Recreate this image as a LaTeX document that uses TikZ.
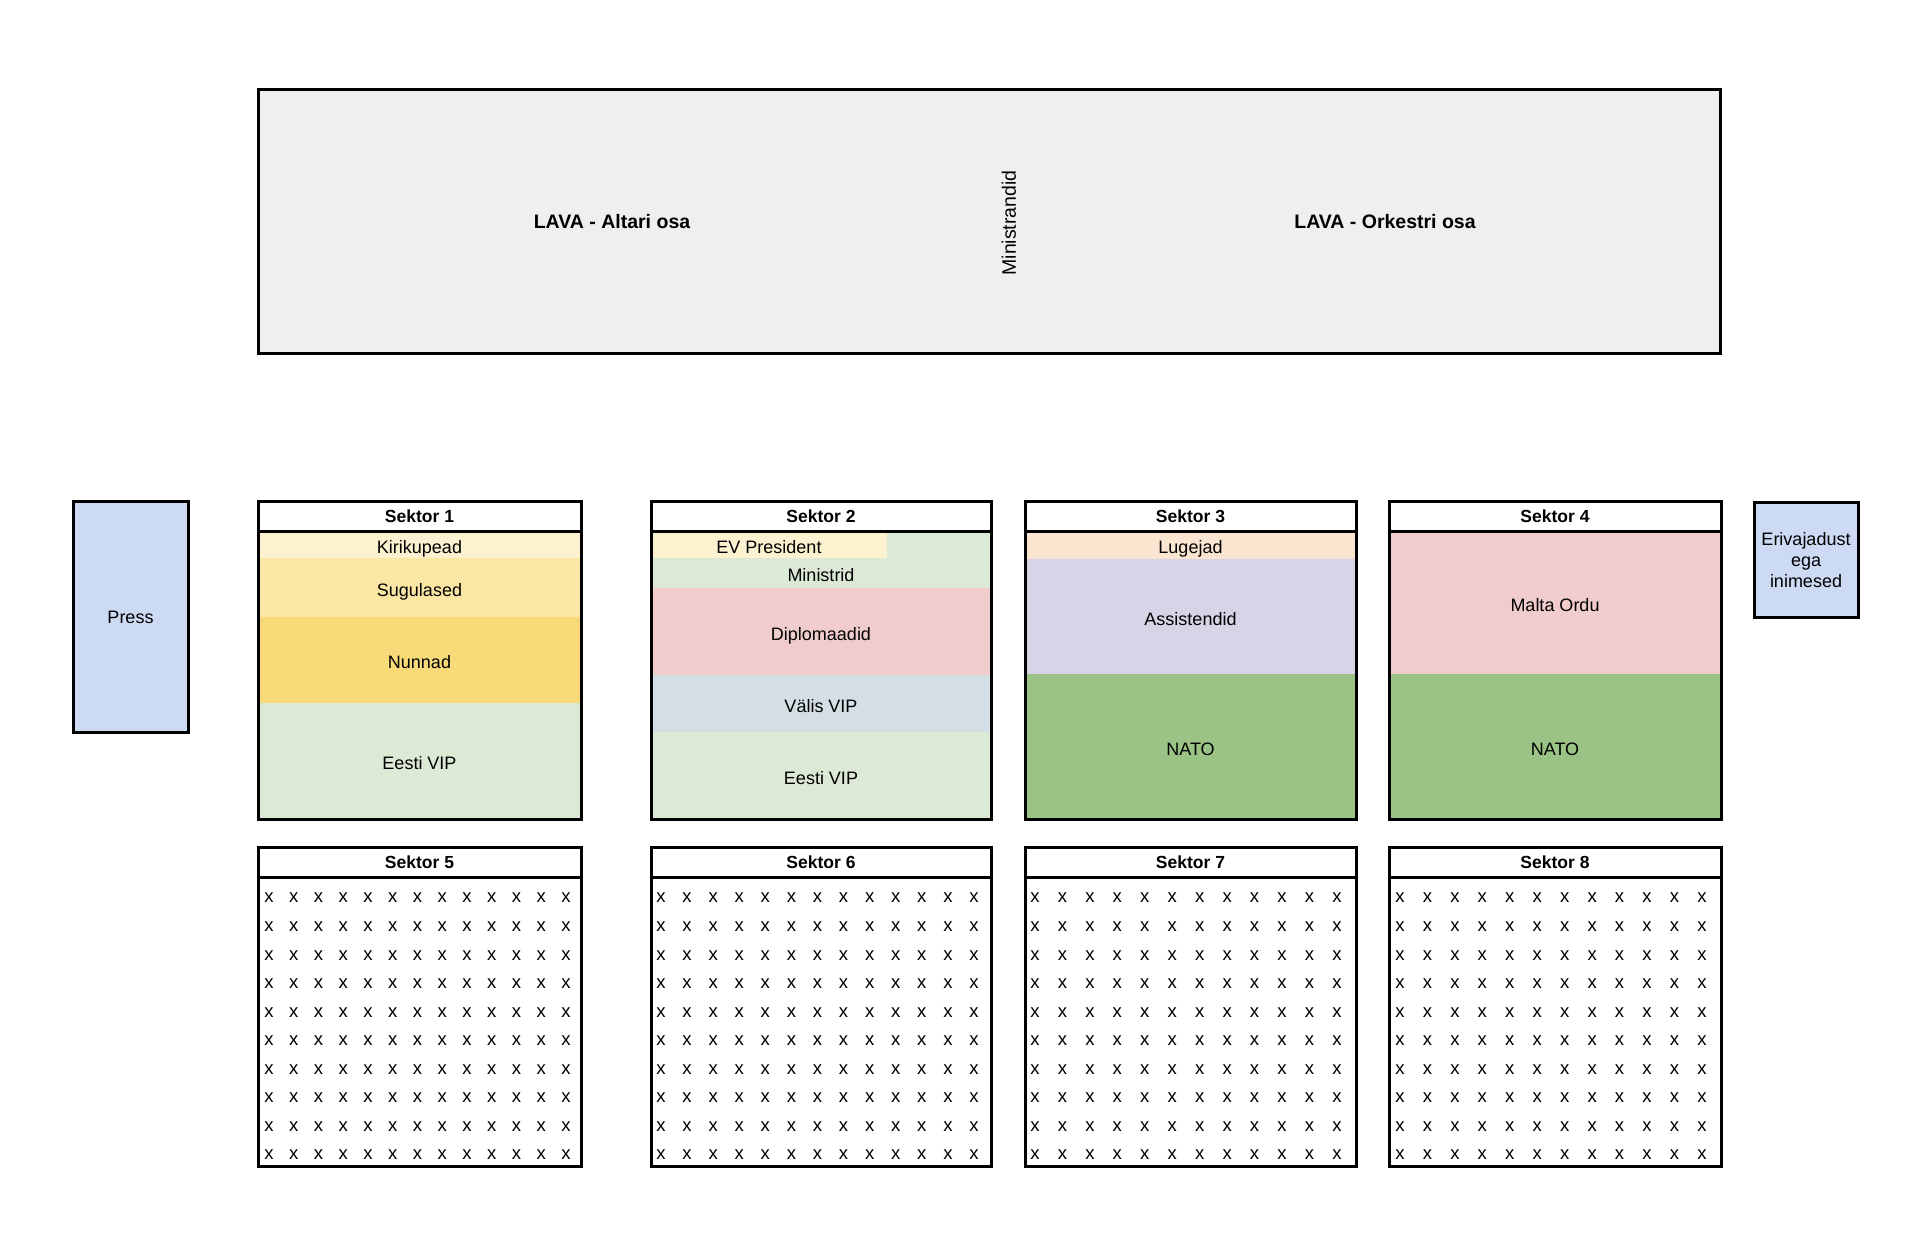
\documentclass[tikz,border=0pt]{standalone}
\usepackage{fontspec}
\setmainfont{Liberation Sans}
\usetikzlibrary{fit}
\definecolor{stagegray}{HTML}{EFEFEF}
\definecolor{pressblue}{HTML}{CCDAF4}
\definecolor{kiri}{HTML}{FDF2D0}
\definecolor{sugu}{HTML}{FBE6A3}
\definecolor{nunn}{HTML}{F9DA78}
\definecolor{lgreen}{HTML}{DCE9D5}
\definecolor{lred}{HTML}{F0CCCC}
\definecolor{lcyan}{HTML}{D3DFE4}
\definecolor{lorange}{HTML}{FAE5D0}
\definecolor{lpurple}{HTML}{D8D3E6}
\definecolor{nato}{HTML}{9BC385}
\begin{document}
\begin{tikzpicture}[x=1pt,y=-1pt,
  txtbase/.style={inner sep=0pt, outer sep=0pt, font=\fontsize{18}{21}\selectfont, text=black},
  txt/.style={txtbase, text height=12.9pt, text depth=0pt, yshift=-2.5pt},
  zone/.style={inner sep=0pt, outer sep=0pt},
  frame/.style={draw=black, line width=3pt, inner sep=0pt, outer sep=0pt},
  hdr/.style={frame, fill=white},
  hdrtxt/.style={inner sep=0pt, outer sep=0pt, font=\bfseries\fontsize{17.5}{21}\selectfont},
  boldtxt/.style={inner sep=0pt, font=\bfseries\fontsize{19.5}{23}\selectfont},
  seat/.style={inner sep=0pt, font=\fontsize{18.5}{21}\selectfont}]
\useasboundingbox[fill=white] (0,0) rectangle (1920,1246);

% Stage
\node[frame, fill=stagegray, fit={(258,90)(1720,354)}] (lava) {};
\node[boldtxt] (altar) at (612,222) {LAVA - Altari osa};
\node[boldtxt] (orch) at (1385,222) {LAVA - Orkestri osa};
\node[txtbase, rotate=90, font=\fontsize{19.5}{23}\selectfont] (ministr) at (1009,223) {Ministrandid};

% Press and special needs
\node[frame, fill=pressblue, fit={(73,501)(188,732)}] (press) {};
\node[txtbase, text height=12.9pt, text depth=0pt, yshift=-1pt] (presst) at (press.center) {Press};
\node[frame, fill=pressblue, fit={(1754,502)(1858,617)}] (eri) {};
\node[txtbase, align=center, yshift=-1pt] (erit) at (eri.center) {Erivajadust\\ega\\inimesed};

% Sektor 1
\node[zone, fill=kiri, fit={(258,531)(581,558)}] (s1a) {};
\node[zone, fill=sugu, fit={(258,558)(581,617)}] (s1b) {};
\node[zone, fill=nunn, fit={(258,617)(581,703)}] (s1c) {};
\node[zone, fill=lgreen, fit={(258,703)(581,819)}] (s1d) {};
\node[txt] (s1at) at (s1a.center) {Kirikupead};
\node[txt] (s1bt) at (s1b.center) {Sugulased};
\node[txt] (s1ct) at (s1c.center) {Nunnad};
\node[txt] (s1dt) at (s1d.center) {Eesti VIP};
\node[frame, fit={(258,501)(581,819)}] (s1) {};
\node[hdr, fit={(258,501)(581,531)}] (s1h) {};
\node[hdrtxt] (s1ht) at (s1h.center) {Sektor 1};

% Sektor 2
\node[zone, fill=kiri, fit={(651,531)(887,558)}] (s2a) {};
\node[zone, fill=lgreen, fit={(887,531)(991,558)}] (s2a2) {};
\node[zone, fill=lgreen, fit={(651,558)(991,588)}] (s2b) {};
\node[zone, fill=lred, fit={(651,588)(991,675)}] (s2c) {};
\node[zone, fill=lcyan, fit={(651,675)(991,732)}] (s2d) {};
\node[zone, fill=lgreen, fit={(651,732)(991,819)}] (s2e) {};
\node[txt] (s2at) at (s2a.center) {EV President};
\node[txt] (s2bt) at (s2b.center) {Ministrid};
\node[txt] (s2ct) at (s2c.center) {Diplomaadid};
\node[txt] (s2dt) at (s2d.center) {Välis VIP};
\node[txt] (s2et) at (s2e.center) {Eesti VIP};
\node[frame, fit={(651,501)(991,819)}] (s2) {};
\node[hdr, fit={(651,501)(991,531)}] (s2h) {};
\node[hdrtxt] (s2ht) at (s2h.center) {Sektor 2};

% Sektor 3
\node[zone, fill=lorange, fit={(1025,531)(1356,559)}] (s3a) {};
\node[zone, fill=lpurple, fit={(1025,559)(1356,674)}] (s3b) {};
\node[zone, fill=nato, fit={(1025,674)(1356,819)}] (s3c) {};
\node[txt] (s3at) at (s3a.center) {Lugejad};
\node[txt] (s3bt) at (s3b.center) {Assistendid};
\node[txt] (s3ct) at (s3c.center) {NATO};
\node[frame, fit={(1025,501)(1356,819)}] (s3) {};
\node[hdr, fit={(1025,501)(1356,531)}] (s3h) {};
\node[hdrtxt] (s3ht) at (s3h.center) {Sektor 3};

% Sektor 4
\node[zone, fill=lred, fit={(1389,531)(1721,674)}] (s4a) {};
\node[zone, fill=nato, fit={(1389,674)(1721,819)}] (s4b) {};
\node[txt] (s4at) at (s4a.center) {Malta Ordu};
\node[txt] (s4bt) at (s4b.center) {NATO};
\node[frame, fit={(1389,501)(1721,819)}] (s4) {};
\node[hdr, fit={(1389,501)(1721,531)}] (s4h) {};
\node[hdrtxt] (s4ht) at (s4h.center) {Sektor 4};

% Sektor 5-8
\node[frame, fit={(258,847)(581,1166)}] (s5) {};
\node[hdr, fit={(258,847)(581,877)}] (s5h) {};
\node[hdrtxt] (s5ht) at (s5h.center) {Sektor 5};
\node[frame, fit={(651,847)(991,1166)}] (s6) {};
\node[hdr, fit={(651,847)(991,877)}] (s6h) {};
\node[hdrtxt] (s6ht) at (s6h.center) {Sektor 6};
\node[frame, fit={(1025,847)(1356,1166)}] (s7) {};
\node[hdr, fit={(1025,847)(1356,877)}] (s7h) {};
\node[hdrtxt] (s7ht) at (s7h.center) {Sektor 7};
\node[frame, fit={(1389,847)(1721,1166)}] (s8) {};
\node[hdr, fit={(1389,847)(1721,877)}] (s8h) {};
\node[hdrtxt] (s8ht) at (s8h.center) {Sektor 8};

\foreach \j in {0,...,9}{
  \foreach \i in {0,...,12}{
    \node[seat] (s5x\i-\j) at ({269+\i*24.75},{898+\j*28.56}) {x};
    \node[seat] (s6x\i-\j) at ({661+\i*26.08},{898+\j*28.56}) {x};
  }
  \foreach \i in {0,...,11}{
    \node[seat] (s7x\i-\j) at ({1035+\i*27.45},{898+\j*28.56}) {x};
    \node[seat] (s8x\i-\j) at ({1400+\i*27.45},{898+\j*28.56}) {x};
  }
}
\end{tikzpicture}
\end{document}
